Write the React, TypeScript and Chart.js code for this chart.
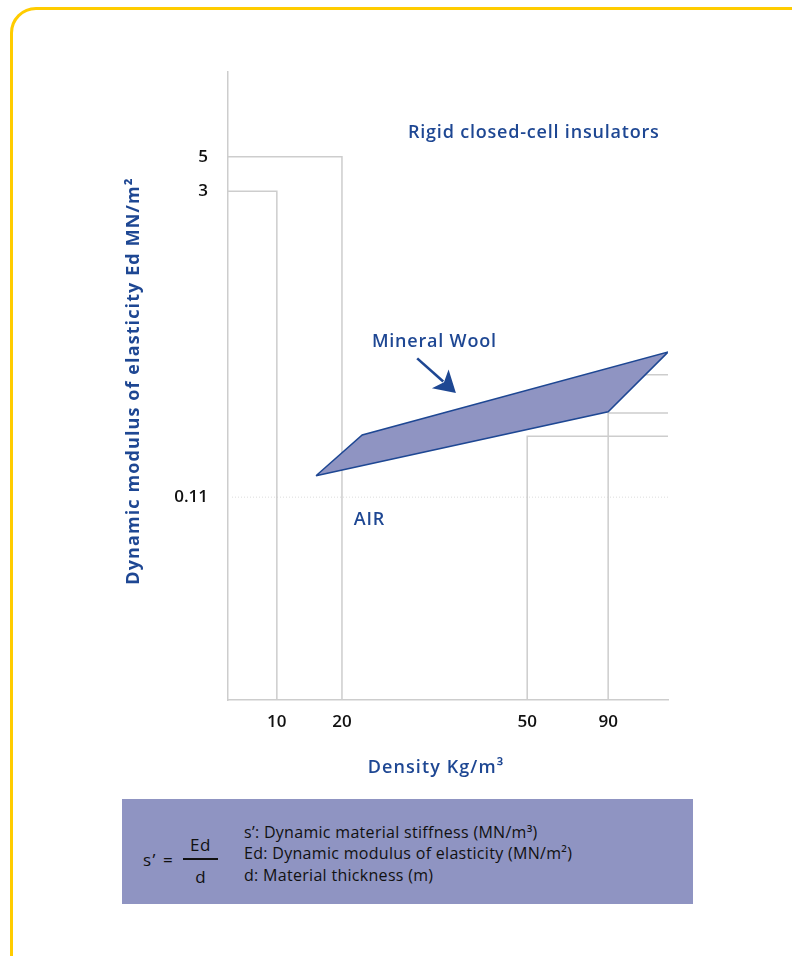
import React, { useEffect, useRef } from "react";
import { Chart, registerables } from "chart.js";

Chart.register(...registerables);

// Diagram is schematic (not to scale): both axes use 0..100 schematic units.
const xTickValues = [11.1, 25.9, 68.0, 86.4];
const xTickLabels = ["10", "20", "50", "90"];
const yTickValues = [32.3, 81.0, 86.5];
const yTickLabels = ["0.11", "3", "5"];

// Mineral wool band
const woolX = [20.0, 30.5, 100.0, 86.4, 20.0];
const woolY = [35.7, 42.2, 55.4, 45.9, 35.7];

// Reference (gray) lines
const ref3X = [0, 11.1, 11.1];
const ref3Y = [81.0, 81.0, 0];
const ref5X = [0, 25.9, 25.9];
const ref5Y = [86.5, 86.5, 0];
const ref50X = [68.0, 68.0, 100];
const ref50Y = [0, 42.0, 42.0];
const ref90X = [86.4, 86.4, 100];
const ref90Y = [0, 45.7, 45.7];
const refTopX = [86.4, 100];
const refTopY = [51.8, 51.8];

// Arrow pointing to mineral wool
const arrowFrom = [43.0, 54.4];
const arrowTo = [51.8, 48.9];
// Air line (0.11)
const airLevel = 32.3;

const BLUE = "#1e4793";
const GRAY = "#cdcdcd";
const FONT = '"Open Sans", sans-serif';

const pts = (xs: number[], ys: number[]) => xs.map((x, i) => ({ x, y: ys[i] }));

const refDataset = (xs: number[], ys: number[]) => ({
  data: pts(xs, ys),
  borderColor: GRAY,
  borderWidth: 1.5,
  pointRadius: 0,
  fill: false,
  tension: 0,
  order: 2,
});

const annotationPlugin = {
  id: "annotations",
  beforeDatasetsDraw(chart: any) {
    const { ctx, chartArea, scales } = chart;
    const y = scales.y.getPixelForValue(airLevel);
    ctx.save();
    ctx.strokeStyle = "#dcdcdc";
    ctx.lineWidth = 1;
    ctx.setLineDash([1, 2]);
    ctx.beginPath();
    ctx.moveTo(chartArea.left + 4, y);
    ctx.lineTo(chartArea.right, y);
    ctx.stroke();
    ctx.restore();
  },
  afterDatasetsDraw(chart: any) {
    const { ctx, scales } = chart;
    const xs = scales.x;
    const ys = scales.y;
    // arrow
    const x0 = xs.getPixelForValue(arrowFrom[0]);
    const y0 = ys.getPixelForValue(arrowFrom[1]);
    const x1 = xs.getPixelForValue(arrowTo[0]);
    const y1 = ys.getPixelForValue(arrowTo[1]);
    const ang = Math.atan2(y1 - y0, x1 - x0);
    const headLen = 21;
    const headHalf = 12.5;
    const bx = x1 - Math.cos(ang) * headLen;
    const by = y1 - Math.sin(ang) * headLen;
    ctx.save();
    ctx.strokeStyle = BLUE;
    ctx.fillStyle = BLUE;
    ctx.lineWidth = 2.6;
    ctx.beginPath();
    ctx.moveTo(x0, y0);
    ctx.lineTo(bx + Math.cos(ang) * 4, by + Math.sin(ang) * 4);
    ctx.stroke();
    const nx = -Math.sin(ang);
    const ny = Math.cos(ang);
    ctx.beginPath();
    ctx.moveTo(x1, y1);
    ctx.lineTo(bx + nx * headHalf, by + ny * headHalf);
    ctx.lineTo(bx + Math.cos(ang) * 5, by + Math.sin(ang) * 5);
    ctx.lineTo(bx - nx * headHalf, by - ny * headHalf);
    ctx.closePath();
    ctx.fill();

    // labels
    ctx.font = `600 18px ${FONT}`;
    (ctx as any).letterSpacing = "0.8px";
    ctx.textAlign = "left";
    ctx.textBaseline = "alphabetic";
    ctx.fillText("Rigid closed-cell insulators", xs.getPixelForValue(40.9), ys.getPixelForValue(89.5));
    ctx.fillText("Mineral Wool", xs.getPixelForValue(32.7), ys.getPixelForValue(56.2));
    ctx.fillText("AIR", xs.getPixelForValue(28.6), ys.getPixelForValue(27.9));
    (ctx as any).letterSpacing = "0px";
    ctx.restore();
  },
  afterDraw(chart: any) {
    const { ctx, chartArea } = chart;
    ctx.save();
    ctx.fillStyle = BLUE;
    ctx.font = `600 18px ${FONT}`;
    (ctx as any).letterSpacing = "1.1px";
    ctx.textAlign = "center";
    ctx.textBaseline = "alphabetic";
    ctx.fillText("Density Kg/m³", chartArea.left + 208, chartArea.bottom + 73);
    ctx.translate(chartArea.left - 94, chartArea.top + 309);
    ctx.rotate(-Math.PI / 2);
    ctx.font = `700 18px ${FONT}`;
    (ctx as any).letterSpacing = "1.1px";
    ctx.textBaseline = "middle";
    ctx.fillText("Dynamic modulus of elasticity Ed MN/m²", 0, 0);
    (ctx as any).letterSpacing = "0px";
    ctx.restore();
  },
};

export default function App() {
  const canvasRef = useRef<HTMLCanvasElement | null>(null);

  useEffect(() => {
    document.body.style.margin = "0";
    document.body.style.overflow = "hidden";
    const canvas = canvasRef.current;
    if (!canvas) return;
    const tickFont = { family: FONT, size: 17, weight: 600 as any };
    const chart = new Chart(canvas, {
      type: "line",
      data: {
        datasets: [
          {
            data: pts(woolX, woolY),
            borderColor: BLUE,
            borderWidth: 1.5,
            backgroundColor: "#8f94c2",
            fill: "shape",
            pointRadius: 0,
            tension: 0,
            order: 0,
          } as any,
          refDataset(ref3X, ref3Y),
          refDataset(ref5X, ref5Y),
          refDataset(ref50X, ref50Y),
          refDataset(ref90X, ref90Y),
          refDataset(refTopX, refTopY),
        ],
      },
      options: {
        animation: false,
        responsive: false,
        maintainAspectRatio: false,
        events: [],
        layout: { padding: { left: 128, top: 72, right: 124, bottom: 206 } },
        plugins: {
          legend: { display: false },
          tooltip: { enabled: false },
        },
        scales: {
          x: {
            type: "linear",
            min: 0,
            max: 100,
            afterBuildTicks: (s: any) => {
              s.ticks = xTickValues.map((v) => ({ value: v }));
            },
            afterFit: (s: any) => {
              s.height = 50;
            },
            grid: { display: false, drawTicks: false },
            border: { display: true, color: GRAY, width: 1.5 },
            ticks: {
              autoSkip: false,
              maxRotation: 0,
              padding: 12,
              color: "#111111",
              font: tickFont,
              callback: (v: any) => {
                const i = xTickValues.indexOf(Number(v));
                return i >= 0 ? xTickLabels[i] : "";
              },
            },
          },
          y: {
            type: "linear",
            min: 0,
            max: 100,
            afterBuildTicks: (s: any) => {
              s.ticks = yTickValues.map((v) => ({ value: v }));
            },
            afterFit: (s: any) => {
              s.width = 100;
            },
            grid: { display: false, drawTicks: false },
            border: { display: true, color: GRAY, width: 1.5 },
            ticks: {
              autoSkip: false,
              padding: 20,
              color: "#111111",
              font: tickFont,
              callback: (v: any) => {
                const i = yTickValues.indexOf(Number(v));
                return i >= 0 ? yTickLabels[i] : "";
              },
            },
          },
        } as any,
      },
      plugins: [annotationPlugin],
    });
    return () => chart.destroy();
  }, []);

  const txt: React.CSSProperties = {
    position: "absolute",
    fontFamily: FONT,
    fontSize: 16,
    lineHeight: "16px",
    color: "#111111",
    whiteSpace: "nowrap",
    letterSpacing: "0.3px",
  };

  return (
    <div style={{ position: "relative", width: 792, height: 956, overflow: "hidden", background: "#ffffff" }}>
      <div
        style={{
          position: "absolute",
          left: 10,
          top: 7,
          width: 820,
          height: 990,
          border: "3px solid #ffcc00",
          borderRadius: 26,
          boxSizing: "border-box",
        }}
      />
      <canvas ref={canvasRef} width={792} height={956} style={{ position: "absolute", left: 0, top: 0, width: 792, height: 956 }} />
      <div style={{ position: "absolute", left: 122, top: 799, width: 571, height: 105, background: "#8f94c2" }}>
        <span style={{ ...txt, left: 21, top: 53, fontSize: 17, letterSpacing: "1.5px" }}>s’ =</span>
        <div style={{ position: "absolute", left: 61, top: 38, width: 35, textAlign: "center" }}>
          <span style={{ ...txt, position: "static", display: "block", fontSize: 17, letterSpacing: "0.6px" }}>Ed</span>
        </div>
        <div style={{ position: "absolute", left: 61, top: 58.5, width: 35, height: 2.5, background: "#111111" }} />
        <div style={{ position: "absolute", left: 61, top: 70, width: 35, textAlign: "center" }}>
          <span style={{ ...txt, position: "static", display: "block", fontSize: 17 }}>d</span>
        </div>
        <span style={{ ...txt, left: 122, top: 25 }}>s’: Dynamic material stiffness (MN/m³)</span>
        <span style={{ ...txt, left: 122, top: 46 }}>Ed: Dynamic modulus of elasticity (MN/m²)</span>
        <span style={{ ...txt, left: 122, top: 68 }}>d: Material thickness (m)</span>
      </div>
    </div>
  );
}
